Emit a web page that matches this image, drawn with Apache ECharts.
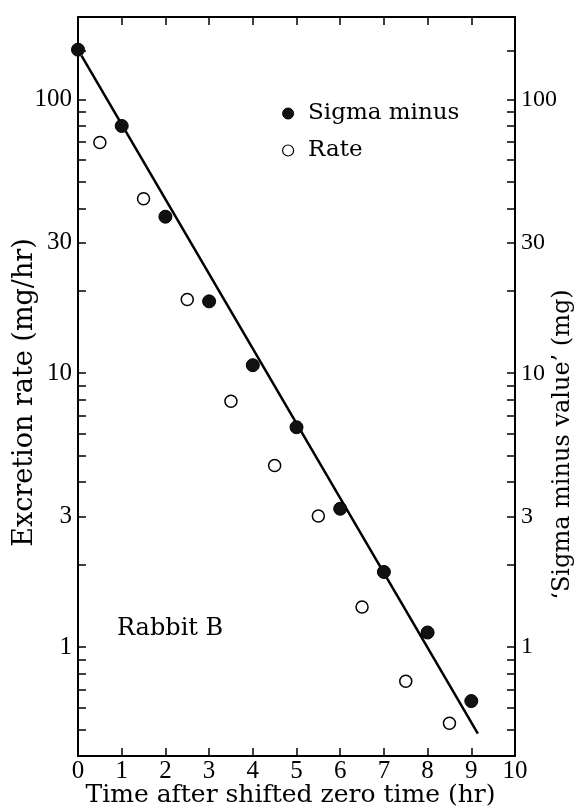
<!DOCTYPE html>
<html><head><meta charset="utf-8">
<script src="https://cdn.jsdelivr.net/npm/echarts@6/dist/echarts.min.js"></script>
<style>html,body{margin:0;padding:0;background:#fff}#c{width:575px;height:812px}</style>
</head><body><div id="c"></div>
<script>
// Data
const sigmaTimes = [0, 1, 2, 3, 4, 5, 6, 7, 8, 9];
const sigmaValues = [152, 80, 37.3, 18.3, 10.7, 6.35, 3.2, 1.88, 1.13, 0.635];
const rateTimes = [0.5, 1.5, 2.5, 3.5, 4.5, 5.5, 6.5, 7.5, 8.5];
const rateValues = [69.6, 43.4, 18.6, 7.9, 4.6, 3.01, 1.40, 0.75, 0.527];
const fitTimes = [0.08, 9.15];
const fitValues = [144.5, 0.483];
const yLabelValues = [1, 3, 10, 30, 100];
const yTickValues = [0.5, 0.6, 0.7, 0.8, 0.9, 1, 2, 3, 4, 5, 6, 7, 8, 9, 10, 20, 30, 40, 50, 60, 70, 80, 90, 100, 150];
const xTickLabels = ['0','1','2','3','4','5','6','7','8','9','10'];

const pairs = (xs, ys) => xs.map((x, i) => [x, ys[i]]);
const serif = 'DejaVu Serif';
const numFont = 'Liberation Serif';

function yAxisDef(position, name, nameGap, nameStyle, labelSize) {
  return {
    type: 'log', logBase: 10, min: 0.4, max: 200, position: position,
    axisLine: { show: true, onZero: false, lineStyle: { color: '#000', width: 2 } },
    axisTick: { show: true, inside: true, length: 8, customValues: yTickValues.slice(),
      lineStyle: { color: '#000', width: 1.5 } },
    axisLabel: { show: true, inside: false, customValues: yLabelValues.slice(), fontFamily: numFont,
      fontSize: labelSize, color: '#000', margin: 6 },
    splitLine: { show: false }, minorTick: { show: false }, minorSplitLine: { show: false },
    name: name, nameLocation: 'middle', nameRotate: 90, nameGap: nameGap, nameMoveOverlap: false,
    nameTextStyle: nameStyle
  };
}

const chart = echarts.init(document.getElementById('c'));
chart.setOption({
  backgroundColor: '#fff',
  animation: false,
  grid: { left: 78, right: 60, top: 17, bottom: 56, containLabel: false, outerBoundsMode: 'none' },
  xAxis: [
    { type: 'value', min: 0, max: 10, interval: 1, position: 'bottom',
      axisLine: { onZero: false, lineStyle: { color: '#000', width: 2 } },
      axisTick: { inside: true, length: 8, lineStyle: { color: '#000', width: 1.5 } },
      axisLabel: { fontFamily: numFont, fontSize: 25, color: '#000', margin: 3,
        formatter: v => xTickLabels[Math.round(v)] },
      splitLine: { show: false },
      name: 'Time after shifted zero time (hr)', nameLocation: 'middle', nameGap: 27, nameMoveOverlap: false,
      nameTextStyle: { fontFamily: serif, fontSize: 25, color: '#000', padding: [0, 12, 0, 0] } },
    { type: 'value', min: 0, max: 10, interval: 1, position: 'top',
      axisLine: { onZero: false, lineStyle: { color: '#000', width: 2 } },
      axisTick: { inside: true, length: 8, lineStyle: { color: '#000', width: 1.5 } },
      axisLabel: { show: false }, splitLine: { show: false } }
  ],
  yAxis: [
    yAxisDef('left', 'Excretion rate (mg/hr)', 40,
      { fontFamily: serif, fontSize: 27, color: '#000', padding: [0, 12, 0, 0] }, 25),
    yAxisDef('right', '\u2018Sigma minus value\u2019 (mg)', 36,
      { fontFamily: serif, fontSize: 24, color: '#000', padding: [0, 116, 0, 0] }, 24)
  ],
  legend: {
    left: 277, top: 97, orient: 'vertical', itemWidth: 30, itemHeight: 11, itemGap: 14,
    textStyle: { fontFamily: serif, fontSize: 23, color: '#000' },
    data: [
      { name: 'Sigma minus', icon: 'circle', itemStyle: { color: '#111', borderColor: '#000', borderWidth: 1 } },
      { name: 'Rate', icon: 'circle', itemStyle: { color: '#fff', borderColor: '#000', borderWidth: 1.2 } }
    ]
  },
  graphic: [
    { type: 'text', left: 117, top: 617, style: { text: 'Rabbit B', fontFamily: serif, fontSize: 24, fill: '#000' } }
  ],
  series: [
    { name: 'fit', type: 'line', data: pairs(fitTimes, fitValues), showSymbol: false, symbol: 'none',
      lineStyle: { color: '#000', width: 2.5 }, z: 1, silent: true },
    { name: 'Sigma minus', type: 'scatter', data: pairs(sigmaTimes, sigmaValues), symbol: 'circle', symbolSize: 13,
      itemStyle: { color: '#111', borderColor: '#000', borderWidth: 1, opacity: 1 }, z: 3 },
    { name: 'Rate', type: 'scatter', data: pairs(rateTimes, rateValues), symbol: 'circle', symbolSize: 12,
      itemStyle: { color: '#fff', borderColor: '#000', borderWidth: 1.5, opacity: 1 }, z: 3 }
  ]
});
</script>
</body></html>
